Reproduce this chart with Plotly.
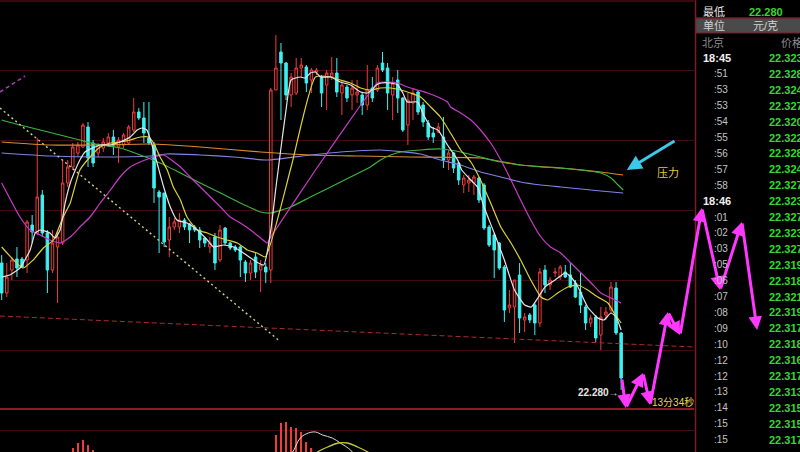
import plotly.graph_objects as go

W, H = 800, 452

# ---------------- candle data (bar index -> price) ----------------
idx = list(range(123))
open_ = [22.407, 22.377, 22.400, 22.411, 22.411, 22.410, 22.445, 22.437, 22.475, 22.437,
         22.400, 22.423, 22.427, 22.487, 22.503, 22.517, 22.523, 22.543, 22.527, 22.517,
         22.522, 22.527, 22.533, 22.523, 22.525, 22.527, 22.540, 22.558, 22.552, 22.532,
         22.525, 22.478, 22.477, 22.430, 22.443, 22.443, 22.450, 22.446, 22.443, 22.440,
         22.432, 22.423, 22.433, 22.410, 22.442, 22.427, 22.423, 22.423, 22.408, 22.397,
         22.413, 22.400, 22.403, 22.400, 22.580, 22.618, 22.607, 22.575, 22.577, 22.602,
         22.603, 22.590, 22.598, 22.593, 22.585, 22.593, 22.597, 22.577, 22.583, 22.575,
         22.575, 22.575, 22.565, 22.582, 22.580, 22.607, 22.602, 22.575, 22.590, 22.572,
         22.545, 22.567, 22.578, 22.565, 22.547, 22.537, 22.538, 22.533, 22.510, 22.517,
         22.507, 22.485, 22.487, 22.487, 22.492, 22.485, 22.443, 22.435, 22.427, 22.403,
         22.362, 22.363, 22.395, 22.350, 22.355, 22.365, 22.347, 22.400, 22.385, 22.397,
         22.393, 22.398, 22.395, 22.387, 22.378, 22.363, 22.347, 22.353, 22.335, 22.355,
         22.360, 22.382, 22.337]
high_ = [22.415, 22.407, 22.413, 22.423, 22.413, 22.450, 22.455, 22.532, 22.480, 22.440,
         22.440, 22.440, 22.510, 22.510, 22.527, 22.528, 22.547, 22.548, 22.530, 22.527,
         22.532, 22.537, 22.540, 22.533, 22.537, 22.545, 22.572, 22.562, 22.568, 22.568,
         22.528, 22.480, 22.477, 22.453, 22.452, 22.457, 22.452, 22.447, 22.445, 22.443,
         22.433, 22.433, 22.437, 22.445, 22.443, 22.428, 22.425, 22.425, 22.410, 22.410,
         22.418, 22.410, 22.407, 22.582, 22.635, 22.627, 22.608, 22.597, 22.612, 22.612,
         22.605, 22.602, 22.602, 22.595, 22.600, 22.613, 22.612, 22.590, 22.585, 22.590,
         22.590, 22.577, 22.605, 22.593, 22.605, 22.618, 22.607, 22.593, 22.600, 22.573,
         22.577, 22.582, 22.580, 22.568, 22.550, 22.543, 22.547, 22.553, 22.520, 22.518,
         22.508, 22.495, 22.495, 22.495, 22.493, 22.487, 22.445, 22.437, 22.428, 22.405,
         22.380, 22.390, 22.407, 22.357, 22.357, 22.367, 22.402, 22.405, 22.393, 22.402,
         22.405, 22.405, 22.407, 22.390, 22.397, 22.365, 22.355, 22.355, 22.363, 22.363,
         22.388, 22.388, 22.338]
low_ = [22.370, 22.373, 22.390, 22.393, 22.402, 22.397, 22.427, 22.435, 22.433, 22.377,
        22.397, 22.367, 22.425, 22.483, 22.500, 22.513, 22.522, 22.503, 22.503, 22.513,
        22.518, 22.523, 22.515, 22.507, 22.522, 22.525, 22.538, 22.550, 22.527, 22.525,
        22.467, 22.417, 22.423, 22.413, 22.440, 22.437, 22.440, 22.427, 22.438, 22.422,
        22.423, 22.417, 22.400, 22.408, 22.425, 22.420, 22.418, 22.393, 22.388, 22.390,
        22.392, 22.378, 22.387, 22.387, 22.580, 22.550, 22.570, 22.563, 22.575, 22.593,
        22.578, 22.577, 22.595, 22.563, 22.560, 22.590, 22.573, 22.555, 22.568, 22.560,
        22.567, 22.555, 22.560, 22.568, 22.578, 22.598, 22.560, 22.550, 22.557, 22.538,
        22.525, 22.550, 22.555, 22.543, 22.530, 22.527, 22.537, 22.502, 22.500, 22.497,
        22.485, 22.477, 22.478, 22.475, 22.467, 22.440, 22.423, 22.392, 22.400, 22.348,
        22.357, 22.327, 22.337, 22.338, 22.347, 22.335, 22.343, 22.377, 22.380, 22.393,
        22.390, 22.392, 22.382, 22.372, 22.357, 22.340, 22.343, 22.328, 22.320, 22.350,
        22.357, 22.335, 22.280]
close_ = [22.377, 22.393, 22.410, 22.402, 22.403, 22.448, 22.438, 22.473, 22.437, 22.400,
          22.427, 22.433, 22.487, 22.503, 22.523, 22.525, 22.545, 22.512, 22.507, 22.525,
          22.528, 22.533, 22.525, 22.530, 22.535, 22.543, 22.558, 22.552, 22.537, 22.527,
          22.482, 22.473, 22.428, 22.443, 22.448, 22.450, 22.443, 22.440, 22.440, 22.430,
          22.427, 22.427, 22.407, 22.440, 22.427, 22.422, 22.420, 22.410, 22.397, 22.407,
          22.398, 22.405, 22.398, 22.580, 22.602, 22.607, 22.575, 22.593, 22.602, 22.605,
          22.587, 22.600, 22.600, 22.577, 22.597, 22.597, 22.578, 22.585, 22.572, 22.582,
          22.578, 22.565, 22.580, 22.572, 22.602, 22.600, 22.577, 22.587, 22.572, 22.540,
          22.570, 22.577, 22.558, 22.548, 22.533, 22.533, 22.543, 22.510, 22.517, 22.502,
          22.490, 22.492, 22.490, 22.493, 22.470, 22.442, 22.425, 22.420, 22.402, 22.360,
          22.365, 22.390, 22.352, 22.353, 22.350, 22.347, 22.398, 22.385, 22.390, 22.398,
          22.403, 22.393, 22.383, 22.373, 22.365, 22.347, 22.352, 22.332, 22.353, 22.358,
          22.383, 22.337, 22.292]

# ---------------- moving-average lines ----------------
ma_white_x = [0, 1.6, 3.6, 5.6, 6.6, 7.6, 9.5, 10.5, 11.5, 12.5, 13.5, 14.5, 15.4, 16.4, 19.4,
              21.4, 23.3, 25.3, 26.7, 27.7, 28.6, 29.6, 30.6, 31.9, 33.2, 34.5, 36.5, 38.5, 40.5,
              41.7, 43.7, 45.7, 47.6, 49.6, 51.6, 53, 54, 55, 56, 57, 58.8, 59.8, 60.8, 61.8,
              62.8, 64.8, 66.7, 68.7, 70.7, 72, 72.9, 73.8, 74.8, 76.6, 78, 79, 79.9, 81.9, 83.1,
              84.5, 85.9, 87.8, 89.8, 90.6, 92.4, 93.7, 95, 97, 99, 101, 103, 104.3, 105.6, 107,
              109, 111, 112.1, 113.5, 115.4, 117.4, 118.6, 120, 121, 122]
ma_white_y = [22.393, 22.395, 22.402, 22.420, 22.437, 22.440, 22.437, 22.432, 22.440, 22.467,
              22.487, 22.500, 22.510, 22.518, 22.525, 22.525, 22.528, 22.533, 22.540, 22.542,
              22.540, 22.525, 22.507, 22.483, 22.463, 22.450, 22.447, 22.440, 22.430, 22.423,
              22.425, 22.423, 22.417, 22.410, 22.405, 22.440, 22.482, 22.522, 22.560, 22.590,
              22.593, 22.592, 22.597, 22.598, 22.593, 22.593, 22.588, 22.585, 22.578, 22.577,
              22.580, 22.585, 22.587, 22.587, 22.585, 22.577, 22.568, 22.568, 22.555, 22.543,
              22.540, 22.525, 22.510, 22.500, 22.490, 22.483, 22.463, 22.437, 22.410, 22.380,
              22.365, 22.363, 22.372, 22.383, 22.390, 22.397, 22.393, 22.383, 22.363, 22.352,
              22.350, 22.357, 22.353, 22.340]
ma_yellow_x = [0, 4.2, 6.2, 8.2, 10.2, 12.1, 13.5, 15.4, 17.4, 19.4, 21.4, 23.3, 25.3, 27.3, 28.9,
               29.9, 31.2, 32.6, 33.8, 35.2, 36.5, 38.5, 40.5, 42.4, 44.4, 46.4, 48.4, 50.3, 51.9,
               57, 61.8, 64.8, 66.7, 68.7, 70.7, 72.6, 74.6, 76.6, 78.6, 80.5, 82.5, 84.5, 86.4,
               88.4, 90.4, 92.4, 94.3, 96.3, 98.3, 100.3, 102.2, 104.2, 106.2, 107.5, 109.5,
               111.5, 113.5, 115.4, 117.4, 119.4, 120.6, 122]
ma_yellow_y = [22.423, 22.402, 22.410, 22.422, 22.430, 22.453, 22.467, 22.500, 22.513, 22.523,
               22.527, 22.528, 22.530, 22.533, 22.533, 22.527, 22.513, 22.500, 22.483, 22.470,
               22.453, 22.440, 22.437, 22.433, 22.430, 22.427, 22.420, 22.417, 22.413, 22.503,
               22.593, 22.593, 22.590, 22.587, 22.582, 22.580, 22.582, 22.582, 22.580, 22.577,
               22.573, 22.563, 22.553, 22.537, 22.520, 22.508, 22.490, 22.467, 22.443, 22.427,
               22.410, 22.390, 22.373, 22.370, 22.377, 22.383, 22.385, 22.380, 22.373, 22.367,
               22.357, 22.347]
ma_magenta_x = [0, 3.6, 5.6, 7.6, 9.5, 11.5, 13.5, 15.4, 17.4, 19.4, 21.4, 23.3, 25.3, 27.3, 29.9,
                31.9, 35.2, 37.1, 39.1, 41.1, 43.1, 45, 47, 49, 51, 52.3, 53, 61.8, 70.7, 72.6,
                74, 76, 78, 79.9, 81.9, 83.9, 85.9, 87.8, 88.4, 90.4, 92.4, 94.3, 96.3, 98.3,
                100.3, 102.2, 104.2, 106.2, 108.1, 110.1, 112.1, 114.1, 116.1, 118, 120, 122]
ma_magenta_y = [22.487, 22.453, 22.440, 22.435, 22.430, 22.427, 22.433, 22.443, 22.453, 22.467,
                22.480, 22.493, 22.503, 22.508, 22.513, 22.515, 22.503, 22.493, 22.483, 22.473,
                22.463, 22.453, 22.447, 22.440, 22.432, 22.427, 22.433, 22.500, 22.565, 22.578,
                22.587, 22.588, 22.587, 22.583, 22.580, 22.577, 22.573, 22.568, 22.563, 22.557,
                22.550, 22.540, 22.527, 22.510, 22.490, 22.470, 22.450, 22.433, 22.423, 22.417,
                22.407, 22.397, 22.387, 22.377, 22.372, 22.367]
ma_green_x = [0, 3.6, 7.6, 11.5, 15.4, 19.4, 23.3, 27.3, 31.2, 35.2, 39.1, 43.1, 47, 51, 53, 56.9,
              60.8, 64.8, 68.7, 72.6, 74.6, 76.6, 78.6, 82.5, 86.4, 90.4, 94.3, 98.3, 102.2,
              106.2, 110.1, 114.1, 118, 120, 121.4, 122.4]
ma_green_y = [22.550, 22.545, 22.540, 22.535, 22.530, 22.525, 22.522, 22.515, 22.507, 22.497,
              22.487, 22.477, 22.467, 22.458, 22.457, 22.463, 22.473, 22.483, 22.493, 22.503,
              22.510, 22.515, 22.518, 22.520, 22.521, 22.518, 22.513, 22.508, 22.505, 22.503,
              22.502, 22.500, 22.497, 22.492, 22.485, 22.480]
ma_orange_x = [0, 9.5, 19.4, 29.3, 39.1, 51, 60.8, 70.7, 80.5, 94.3, 102.2, 110.1, 118, 122.4]
ma_orange_y = [22.528, 22.525, 22.525, 22.526, 22.523, 22.518, 22.515, 22.514, 22.513, 22.512,
               22.505, 22.502, 22.498, 22.495]
ma_blue_x = [0, 9.5, 19.4, 29.3, 32.6, 39.1, 45.7, 52.3, 60.8, 66.7, 74.6, 82.5, 86.4, 90.4, 94.3,
             98.3, 102.2, 106.2, 110.1, 114.1, 118, 122.4]
ma_blue_y = [22.517, 22.514, 22.513, 22.514, 22.516, 22.515, 22.513, 22.510, 22.515, 22.518,
             22.520, 22.516, 22.510, 22.505, 22.498, 22.493, 22.488, 22.485, 22.483, 22.481,
             22.479, 22.477]

# ---------------- hand-drawn lines (bar index, price) ----------------
trend_yellow_x, trend_yellow_y = [-0.34, 54.5], [22.562, 22.330]
trend_red_x, trend_red_y = [-0.34, 136.35], [22.354, 22.323]
trend_violet_x, trend_violet_y = [-0.34, 4.6], [22.578, 22.594]
zigzag_x = [122.3, 123.1, 126.5, 127.9, 131.4, 133.8, 138.1, 141.7, 146.0, 149.0]
zigzag_y = [22.292, 22.262, 22.297, 22.265, 22.358, 22.335, 22.462, 22.380, 22.448, 22.340]
pressure_arrow_x = [133.0, 123.3]
pressure_arrow_y = [22.530, 22.500]

# ---------------- lower indicator panel ----------------
macd_bar_x = [14, 15, 16, 17, 18, 54, 55, 56, 57, 58, 59, 60, 61]
macd_bar_y = [0.004, 0.009, 0.012, 0.007, 0.002, 0.017, 0.029, 0.030, 0.025, 0.024, 0.020, 0.010, 0.004]
dif_x = [56.5, 57.3, 58.8, 60.4, 61.8, 63.2, 65.1, 66.7, 68.7, 69.5]
dif_y = [-0.003, 0.000, 0.014, 0.019, 0.020, 0.017, 0.014, 0.009, 0.002, -0.003]
dea_x = [61.5, 62.2, 64.2, 66.3, 68.1, 70.1, 72.1, 73.0]
dea_y = [-0.003, 0.000, 0.005, 0.009, 0.009, 0.005, 0.000, -0.003]

# ---------------- right-hand quote table ----------------
tbl_times = ["18:45", ":51", ":53", ":53", ":54", ":55", ":56", ":57", ":58", "18:46", ":01", ":02",
             ":03", ":05", ":06", ":07", ":08", ":09", ":10", ":12", ":12", ":13", ":14", ":15", ":15"]
tbl_prices = [22.323, 22.328, 22.324, 22.327, 22.320, 22.322, 22.328, 22.324, 22.327, 22.323,
              22.327, 22.323, 22.327, 22.319, 22.318, 22.321, 22.319, 22.317, 22.318, 22.316,
              22.317, 22.313, 22.315, 22.315, 22.317]
low_value = "22.280"

RED = "#f03c3c"
CYAN = "#3ef0f0"
MAG = "#ff38ff"
GREEN_TXT = "#34d834"
GRID = "#3e0c12"
BORDER = "#7c1a28"
FONT = "Liberation Sans, Noto Sans CJK SC, sans-serif"

def px(x):
    return x / W

def py(y):
    return 1 - y / H

fig = go.Figure()

fig.add_trace(go.Candlestick(
    x=idx, open=open_, high=high_, low=low_, close=close_,
    increasing=dict(line=dict(color=RED, width=1), fillcolor="#000000"),
    decreasing=dict(line=dict(color=CYAN, width=1), fillcolor=CYAN),
    whiskerwidth=0, xaxis="x", yaxis="y", hoverinfo="skip"))

for xs, ys, col in [(ma_orange_x, ma_orange_y, "#dc8a2c"),
                    (ma_blue_x, ma_blue_y, "#8282e6"),
                    (ma_green_x, ma_green_y, "#3cb43c"),
                    (ma_magenta_x, ma_magenta_y, "#c83cc8"),
                    (ma_yellow_x, ma_yellow_y, "#dcd23c"),
                    (ma_white_x, ma_white_y, "#e6e6e6")]:
    fig.add_trace(go.Scatter(x=xs, y=ys, mode="lines", line=dict(color=col, width=1.2, shape="spline", smoothing=0.5),
                             xaxis="x", yaxis="y", hoverinfo="skip"))

fig.add_trace(go.Scatter(x=trend_yellow_x, y=trend_yellow_y, mode="lines",
                         line=dict(color="#d2d28c", width=1.4, dash="2px,3px"), xaxis="x", yaxis="y"))
fig.add_trace(go.Scatter(x=trend_red_x, y=trend_red_y, mode="lines",
                         line=dict(color="#b02a2a", width=1, dash="5px,3px"), xaxis="x", yaxis="y"))
fig.add_trace(go.Scatter(x=trend_violet_x, y=trend_violet_y, mode="lines",
                         line=dict(color="#a83cbc", width=1.5, dash="4px,3px"), xaxis="x", yaxis="y"))

fig.add_trace(go.Bar(x=macd_bar_x, y=macd_bar_y, width=0.28, marker=dict(color=RED, line=dict(width=0)),
                     xaxis="x", yaxis="y3", hoverinfo="skip"))
fig.add_trace(go.Scatter(x=dif_x, y=dif_y, mode="lines", line=dict(color="#dcdcdc", width=1, shape="spline"),
                         xaxis="x", yaxis="y3"))
fig.add_trace(go.Scatter(x=dea_x, y=dea_y, mode="lines", line=dict(color="#c8c832", width=1.3, shape="spline"),
                         xaxis="x", yaxis="y3"))

XR = [-0.335, 136.35]
main_right = 694 / W

annotations = []
# magenta zigzag arrows
for i in range(1, len(zigzag_x)):
    annotations.append(dict(x=zigzag_x[i], y=zigzag_y[i], ax=zigzag_x[i - 1], ay=zigzag_y[i - 1],
                            xref="x2", yref="y2", axref="x2", ayref="y2", text="", showarrow=True,
                            arrowhead=2, arrowsize=0.9, arrowwidth=3, arrowcolor=MAG, standoff=0))
annotations.append(dict(x=pressure_arrow_x[1], y=pressure_arrow_y[1], ax=pressure_arrow_x[0], ay=pressure_arrow_y[0],
                        xref="x2", yref="y2", axref="x2", ayref="y2", text="", showarrow=True,
                        arrowhead=2, arrowsize=1, arrowwidth=3, arrowcolor="#3cc8e8", standoff=0))
annotations.append(dict(x=128.9, y=22.497, xref="x2", yref="y2", text="压力", showarrow=False,
                        xanchor="left", yanchor="middle", font=dict(family=FONT, size=11, color="#e6c83c")))
annotations.append(dict(x=122.1, y=22.278, xref="x2", yref="y2", text="<b>" + low_value + "</b>→", showarrow=False,
                        xanchor="right", yanchor="middle", font=dict(family=FONT, size=10, color="#e6e6e6")))
annotations.append(dict(x=127.9, y=22.268, xref="x2", yref="y2", text="13分34秒", showarrow=False,
                        xanchor="left", yanchor="middle", font=dict(family=FONT, size=10, color="#e6d84a")))

def label(x, y, text, color, size=11):
    annotations.append(dict(x=px(x), y=py(y), xref="paper", yref="paper", text=text, showarrow=False,
                            xanchor="left", yanchor="middle", font=dict(family=FONT, size=size, color=color)))

# quote table text
label(701, 12, "最低", "#e6e6e6")
label(747, 12, "<b>" + low_value + "</b>", GREEN_TXT)
label(701, 26, "单位", "#d4d4d4")
label(751, 26, "元/克", "#d4d4d4")
label(700, 42, "北京", "#8c8c8c")
label(779, 42, "价格", "#8c8c8c")
for i, (t, p) in enumerate(zip(tbl_times, tbl_prices)):
    yy = 58 + 15.9 * i
    if t.startswith("18"):
        label(701, yy, "<b>" + t + "</b>", "#f0f0f0")
    else:
        label(712, yy, t, "#c4c4c4", 10)
    label(767, yy, "<b>%.3f</b>" % p, GREEN_TXT)

shapes = [
    dict(type="rect", xref="paper", yref="paper", x0=px(696), x1=1.0, y0=py(33), y1=py(18),
         fillcolor="#4a4a4a", line=dict(width=0), layer="above"),
    dict(type="line", xref="paper", yref="paper", x0=px(695), x1=1.0, y0=py(18), y1=py(18),
         line=dict(color=BORDER, width=1.5)),
    dict(type="line", xref="paper", yref="paper", x0=px(695), x1=1.0, y0=py(33), y1=py(33),
         line=dict(color=BORDER, width=1)),
    dict(type="line", xref="paper", yref="paper", x0=0, x1=main_right, y0=py(409), y1=py(409),
         line=dict(color="#8c1c2c", width=2)),
    dict(type="line", xref="paper", yref="paper", x0=0, x1=main_right, y0=py(1), y1=py(1),
         line=dict(color="#4a0e16", width=1.5)),
    dict(type="line", xref="paper", yref="paper", x0=px(695.5), x1=px(695.5), y0=0, y1=1,
         line=dict(color=BORDER, width=1.5)),
]

fig.update_layout(
    width=W, height=H, margin=dict(l=0, r=0, t=0, b=0),
    paper_bgcolor="#000000", plot_bgcolor="rgba(0,0,0,0)", showlegend=False,
    xaxis=dict(domain=[0, main_right], range=XR, showgrid=False, zeroline=False, showticklabels=False,
               showline=False, rangeslider=dict(visible=False), anchor="y", fixedrange=True),
    yaxis=dict(domain=[1 - 408 / H, 1], range=[22.262, 22.670], tickvals=[22.320, 22.390, 22.460, 22.530, 22.600],
               showticklabels=False, gridcolor=GRID, gridwidth=1, zeroline=False, showline=False, anchor="x",
               fixedrange=True),
    yaxis3=dict(domain=[0, 42 / H], range=[0, 0.042], tickvals=[0.022], showticklabels=False, gridcolor=GRID,
                zeroline=False, showline=False, anchor="x", fixedrange=True),
    xaxis2=dict(domain=[0, 1], range=[-0.335, 157.46], visible=False, anchor="y2", fixedrange=True),
    yaxis2=dict(domain=[0, 1], range=[22.218, 22.670], visible=False, anchor="x2", fixedrange=True),
    annotations=annotations, shapes=shapes,
)

fig.write_html("out.html", config={"displayModeBar": False},
               post_script="document.body.style.margin='0';document.body.style.background='#000';")
